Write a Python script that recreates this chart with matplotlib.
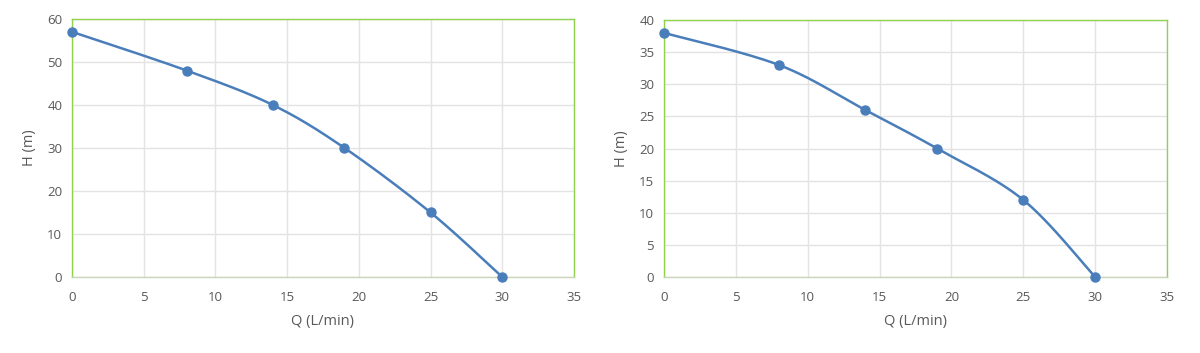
import matplotlib.pyplot as plt
import numpy as np

# daten
q = [0, 8, 14, 19, 25, 30]
h_links = [57, 48, 40, 30, 15, 0]
h_rechts = [38, 33, 26, 20, 12, 0]

blau = '#4a7ebb'
gruen = '#92d050'
grau_text = '#595959'

plt.rcParams['font.family'] = ['Open Sans', 'DejaVu Sans']


def glatt(x, y, n=30):
    # excel-artige glatte linie (catmull-rom als bezier)
    x = np.asarray(x, float)
    y = np.asarray(y, float)
    px = np.concatenate([[x[0]], x, [x[-1]]])
    py = np.concatenate([[y[0]], y, [y[-1]]])
    t = np.linspace(0, 1, n)[:, None]
    xs, ys = [], []
    for i in range(1, len(px) - 2):
        p0 = np.array([px[i - 1], py[i - 1]])
        p1 = np.array([px[i], py[i]])
        p2 = np.array([px[i + 1], py[i + 1]])
        p3 = np.array([px[i + 2], py[i + 2]])
        c1 = p1 + (p2 - p0) / 6
        c2 = p2 - (p3 - p1) / 6
        b = ((1 - t) ** 3) * p1 + 3 * ((1 - t) ** 2) * t * c1 + 3 * (1 - t) * t ** 2 * c2 + t ** 3 * p2
        xs.extend(b[:, 0])
        ys.extend(b[:, 1])
    return xs, ys


fig = plt.figure(figsize=(12, 3.53), dpi=100)
ax1 = fig.add_axes([0.06, 0.2153, 0.4183, 0.731])
ax2 = fig.add_axes([0.5533, 0.2153, 0.4192, 0.728])

for ax, h, ymax, ystep in [(ax1, h_links, 60, 10), (ax2, h_rechts, 40, 5)]:
    gx, gy = glatt(q, h)
    ax.plot(gx, gy, color=blau, linewidth=1.8, zorder=3, clip_on=False)
    ax.plot(q, h, 'o', color=blau, markersize=6.5, zorder=4, clip_on=False)
    ax.set_xlim(0, 35)
    ax.set_ylim(0, ymax)
    ax.set_xticks(np.arange(0, 36, 5))
    ax.set_yticks(np.arange(0, ymax + 1, ystep))
    ax.grid(True, color='#e3e3e3', linewidth=1.0)
    ax.set_axisbelow(True)
    for s in ['top', 'right', 'left']:
        ax.spines[s].set_color(gruen)
        ax.spines[s].set_linewidth(1.0)
    ax.spines['bottom'].set_color('#c9d6b8')
    ax.spines['bottom'].set_linewidth(1.0)
    ax.tick_params(length=0, labelsize=9.5, labelcolor=grau_text)
    ax.tick_params(axis='x', pad=10)
    ax.tick_params(axis='y', pad=7)
    ax.set_xlabel('Q (L/min)', fontsize=10.5, color=grau_text, labelpad=7)
    ax.set_ylabel('H (m)', fontsize=10.5, color=grau_text, labelpad=7)

fig.savefig('out.png', dpi=100)
